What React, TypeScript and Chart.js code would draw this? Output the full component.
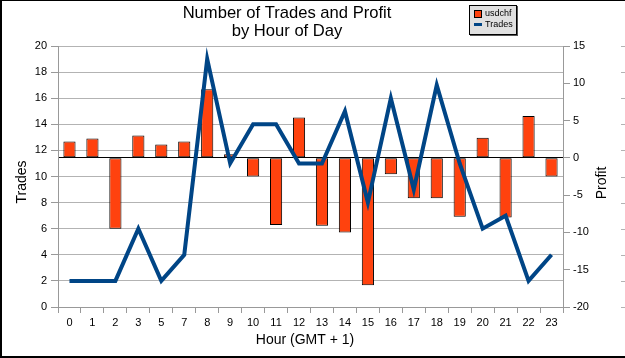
import React, { useEffect, useRef } from 'react';
import { Chart, registerables } from 'chart.js';
Chart.register(...registerables);

const FONT = '"Liberation Sans", Arial, sans-serif';

const hours = ['0', '1', '2', '3', '5', '7', '8', '9', '10', '11', '12', '13', '14', '15', '16', '17', '18', '19', '20', '21', '22', '23'];
const profit = [2.2, 2.6, -9.5, 3.0, 1.8, 2.2, 9.2, 0.5, -2.5, -9.0, 5.4, -9.1, -10.0, -17.1, -2.2, -5.4, -5.4, -7.9, 2.7, -8.0, 5.6, -2.5];
const trades = [2, 2, 2, 6, 2, 4, 19, 11, 14, 14, 11, 11, 15, 8, 16, 9, 17, 11, 6, 7, 2, 4];

const titleLines = ['Number of Trades and Profit', 'by Hour of Day'];
const xTitle = 'Hour (GMT + 1)';
const yTitle = 'Trades';
const y1Title = 'Profit';
const legendItems = ['usdchf', 'Trades'];

const BAR_COLOR = '#ff420e';
const LINE_COLOR = '#004586';

const decor = {
  id: 'decor',
  afterDraw(chart: any) {
    const ctx = chart.ctx as CanvasRenderingContext2D;
    ctx.save();
    // frame
    ctx.fillStyle = '#000';
    ctx.fillRect(0, 0, 625, 1);
    ctx.fillRect(0, 0, 2, 358);
    ctx.fillRect(0, 356, 625, 2);
    // right-edge dashes
    const ys = chart.scales.y;
    ctx.fillStyle = '#b3b3b3';
    ys.ticks.forEach((t: any) => {
      const py = Math.round(ys.getPixelForValue(t.value));
      ctx.fillRect(621, py, 4, 1);
    });
    // titles
    ctx.fillStyle = '#000';
    ctx.textAlign = 'center';
    ctx.textBaseline = 'middle';
    ctx.font = '16.6px ' + FONT;
    ctx.fillText(titleLines[0], 287, 13);
    ctx.fillText(titleLines[1], 287, 31);
    ctx.font = '14px ' + FONT;
    ctx.fillText(xTitle, 305, 340);
    ctx.save();
    ctx.translate(22, 182);
    ctx.rotate(-Math.PI / 2);
    ctx.fillText(yTitle, 0, 0);
    ctx.restore();
    ctx.save();
    ctx.translate(602, 183);
    ctx.rotate(-Math.PI / 2);
    ctx.fillText(y1Title, 0, 0);
    ctx.restore();
    // legend
    ctx.fillStyle = '#555';
    ctx.fillRect(470, 6, 48, 30);
    ctx.fillStyle = '#e0e0e0';
    ctx.fillRect(469, 5, 47, 29);
    ctx.strokeStyle = '#000';
    ctx.lineWidth = 1;
    ctx.strokeRect(469.5, 5.5, 47, 29);
    ctx.fillStyle = BAR_COLOR;
    ctx.fillRect(474, 10, 7, 7);
    ctx.strokeRect(474.5, 10.5, 7, 7);
    ctx.fillStyle = LINE_COLOR;
    ctx.fillRect(474, 23, 8, 3);
    ctx.fillStyle = '#000';
    ctx.textAlign = 'left';
    ctx.font = '9px ' + FONT;
    ctx.fillText(legendItems[0], 485, 14);
    ctx.fillText(legendItems[1], 485, 25);
    ctx.restore();
  },
};

export default function App() {
  const ref = useRef<HTMLCanvasElement | null>(null);
  useEffect(() => {
    document.body.style.margin = '0';
    const canvas = ref.current;
    if (!canvas) return;
    const chart = new Chart(canvas, {
      type: 'bar',
      data: {
        labels: hours,
        datasets: [
          {
            type: 'line',
            label: 'Trades',
            data: trades,
            yAxisID: 'y',
            borderColor: LINE_COLOR,
            backgroundColor: LINE_COLOR,
            borderWidth: 4,
            pointRadius: 0,
            tension: 0,
            order: 0,
          } as any,
          {
            type: 'bar',
            label: 'usdchf',
            data: profit,
            yAxisID: 'y1',
            backgroundColor: BAR_COLOR,
            borderColor: '#000',
            borderWidth: 1,
            borderSkipped: false,
            barPercentage: 0.53,
            categoryPercentage: 1,
            order: 1,
          } as any,
        ],
      },
      options: {
        responsive: false,
        animation: false,
        layout: { padding: { top: 46, left: 0, right: 0, bottom: 0 } },
        plugins: {
          legend: { display: false },
          title: { display: false },
          tooltip: { enabled: false },
        },
        scales: {
          x: {
            type: 'category',
            offset: true,
            grid: { offset: true, drawOnChartArea: false, drawTicks: true, tickLength: 6, tickColor: '#999' },
            border: { color: '#999' },
            ticks: { autoSkip: false, maxRotation: 0, minRotation: 0, padding: 3, color: '#000', font: { size: 11, family: FONT } },
            afterFit: (s: any) => { s.height = 51; },
          },
          y: {
            position: 'left',
            min: 0,
            max: 20,
            ticks: { stepSize: 2, padding: 4, color: '#000', font: { size: 11, family: FONT } },
            grid: { color: '#b3b3b3', tickLength: 7, tickColor: '#999' },
            border: { color: '#999' },
            afterFit: (s: any) => { s.width = 58; },
          },
          y1: {
            position: 'right',
            min: -20,
            max: 15,
            ticks: { stepSize: 5, padding: 3, color: '#000', font: { size: 11, family: FONT } },
            grid: {
              color: (c: any) => (c.tick && c.tick.value === 0 ? '#000' : 'rgba(0,0,0,0)'),
              tickColor: '#999',
              tickLength: 7,
            },
            border: { color: '#999' },
            afterFit: (s: any) => { s.width = 62; },
          },
        },
      } as any,
      plugins: [decor],
    });
    return () => chart.destroy();
  }, []);
  return <canvas ref={ref} width={625} height={358} style={{ display: 'block' }} />;
}
